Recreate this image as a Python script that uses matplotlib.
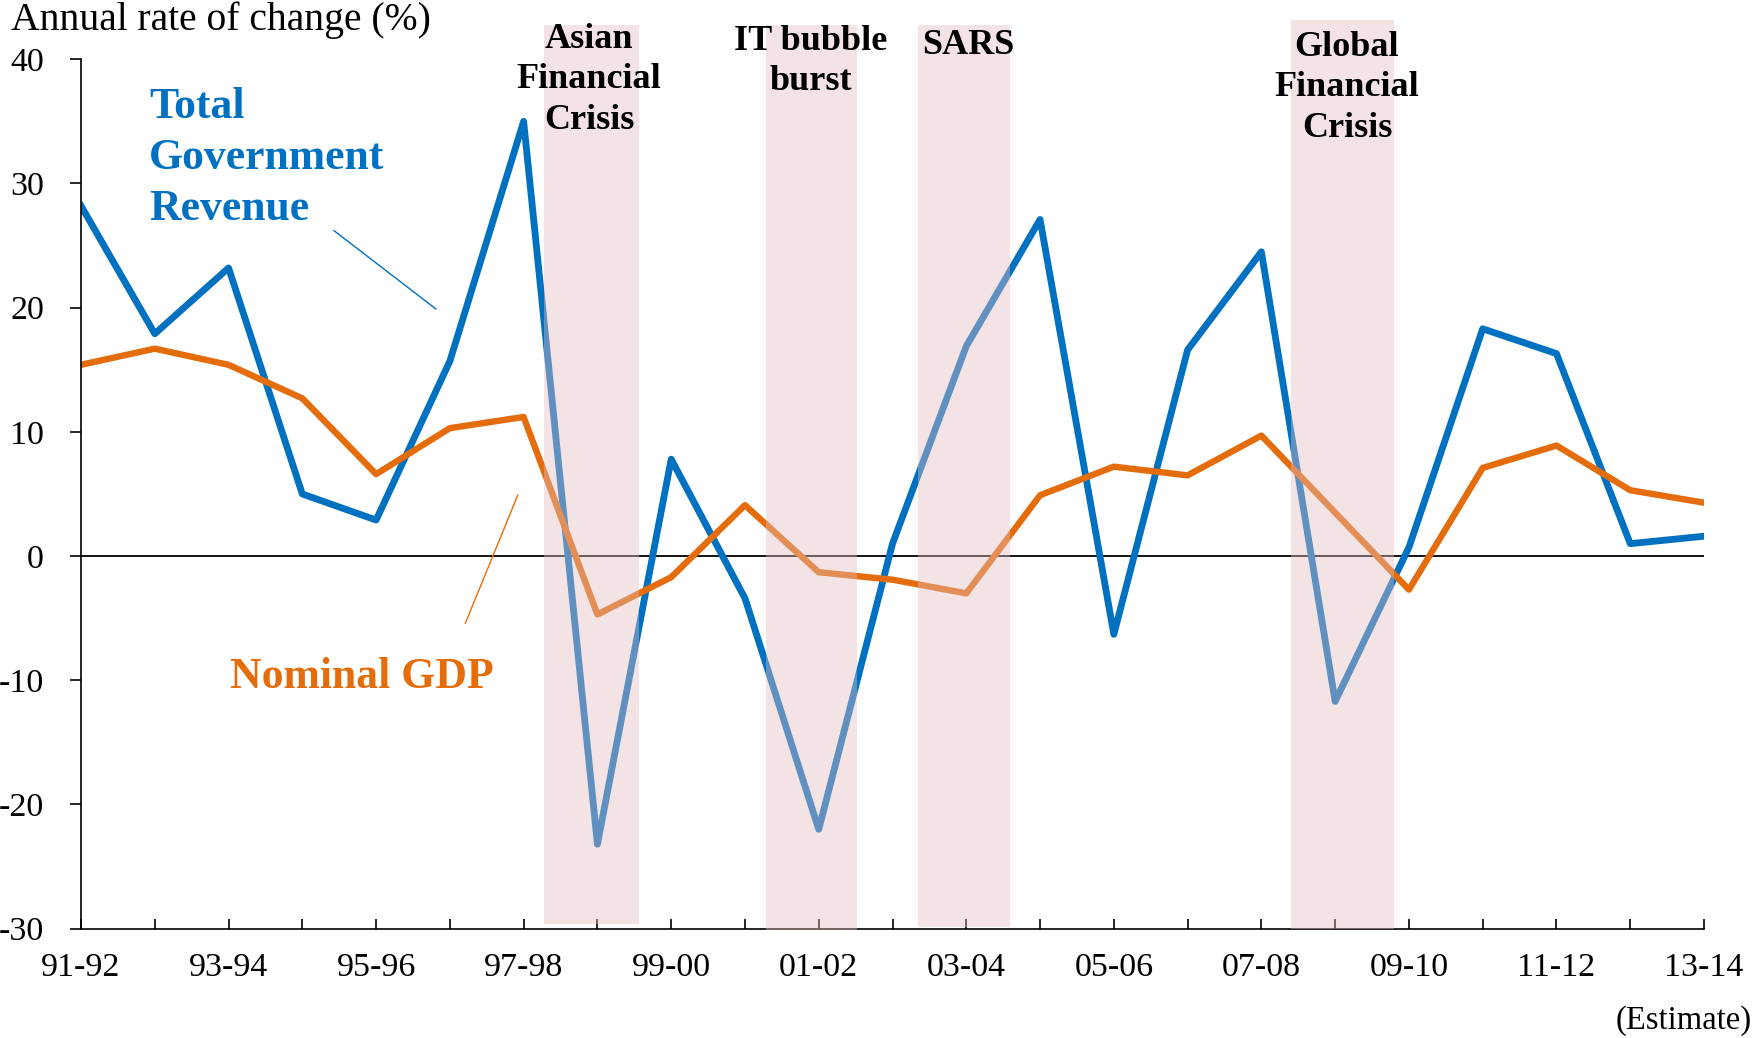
import matplotlib
matplotlib.use("Agg")
import matplotlib.pyplot as plt

plt.rcParams['font.family'] = ['Liberation Serif', 'DejaVu Serif']

years = ["91-92", "92-93", "93-94", "94-95", "95-96", "96-97", "97-98", "98-99",
         "99-00", "00-01", "01-02", "02-03", "03-04", "04-05", "05-06", "06-07",
         "07-08", "08-09", "09-10", "10-11", "11-12", "12-13", "13-14"]
revenue = [28.2, 17.9, 23.2, 5.0, 2.9, 15.7, 35.0, -23.2, 7.8, -3.4, -22.0, 1.0,
           16.9, 27.1, -6.3, 16.6, 24.5, -11.7, 0.7, 18.3, 16.3, 1.0, 1.6]
gdp = [15.4, 16.7, 15.4, 12.7, 6.6, 10.3, 11.2, -4.7, -1.7, 4.1, -1.3, -1.9,
       -3.0, 4.9, 7.2, 6.5, 9.7, 3.5, -2.7, 7.1, 8.9, 5.3, 4.3]

crisis_names = ["Asian\nFinancial\nCrisis", "IT bubble\nburst", "SARS",
                "Global\nFinancial\nCrisis"]
crisis_start = [6.27, 9.29, 11.34, 16.40]
crisis_end = [7.56, 10.52, 12.59, 17.80]

yticks = [40, 30, 20, 10, 0, -10, -20, -30]

BLUE = "#0070C0"
ORANGE = "#E46C0A"

fig = plt.figure(figsize=(17.62, 10.38), dpi=100)
ax = fig.add_axes([0.04597, 0.1053, 0.9671 - 0.04597, 0.9429 - 0.1053])

x = list(range(len(years)))
ax.plot(x, revenue, color=BLUE, lw=4.9, solid_joinstyle='round', zorder=2)
ax.plot(x, gdp, color=ORANGE, lw=4.6, solid_joinstyle='round', zorder=2)
ax.axhline(0, color='black', lw=1.3, zorder=1.5)

ax.set_xlim(0, len(years) - 1)
ax.set_ylim(-30, 40)

# crisis bands (drawn on top, translucent)
tops = [1.039, 1.039, 1.039, 1.045]
bottoms = [0.005, -0.002, 0.002, 0.0]
for s, e, t, b in zip(crisis_start, crisis_end, tops, bottoms):
    ax.axvspan(s, e, ymin=b, ymax=t, facecolor="#E3BEC0", alpha=0.42,
               edgecolor='none', zorder=3, clip_on=False)

# crisis labels (figure pixel coords)
W, H = 1762, 1038
label_pos = [(589, 41), (811, 43), (968, 47), (1347, 49)]
for name, (px, py) in zip(crisis_names, label_pos):
    fig.text(px / W, 1 - (py - 18) / H, name, ha='center', va='top',
             fontsize=26, fontweight='bold', color='black', linespacing=1.3,
             zorder=5)

# series labels
fig.text(149 / W, 1 - 87 / H, "Total\nGovernment\nRevenue", ha='left', va='top',
         fontsize=31.5, fontweight='bold', color=BLUE, linespacing=1.36)
fig.text(230 / W, 1 - 677 / H, "Nominal GDP", ha='left', va='center',
         fontsize=31.5, fontweight='bold', color=ORANGE)

# leader lines
ax.plot([3.43, 4.81], [26.2, 19.9], color=BLUE, lw=1.0, zorder=2)
ax.plot([5.92, 5.21], [4.9, -5.4], color=ORANGE, lw=1.0, zorder=2)

# axes styling
for side in ['top', 'right']:
    ax.spines[side].set_visible(False)
ax.spines['left'].set_linewidth(1.2)
ax.spines['bottom'].set_linewidth(1.2)

ax.set_yticks(yticks)
ax.set_yticklabels([str(v) for v in yticks])
ax.set_xticks(x)
ax.set_xticklabels([y if i % 2 == 0 else "" for i, y in enumerate(years)])
ax.tick_params(axis='y', direction='out', length=7.6, width=1.2, pad=19,
               labelsize=24.5)
ax.tick_params(axis='x', direction='in', length=7.2, width=1.2, pad=17,
               labelsize=24.5)

fig.text(11 / W, 1 - 20 / H, "Annual rate of change (%)", ha='left',
         va='center', fontsize=28.5)
fig.text(1752 / W, 1 - 1021 / H, "(Estimate)", ha='right', va='center',
         fontsize=23.5)

fig.savefig("out.png", dpi=100)
